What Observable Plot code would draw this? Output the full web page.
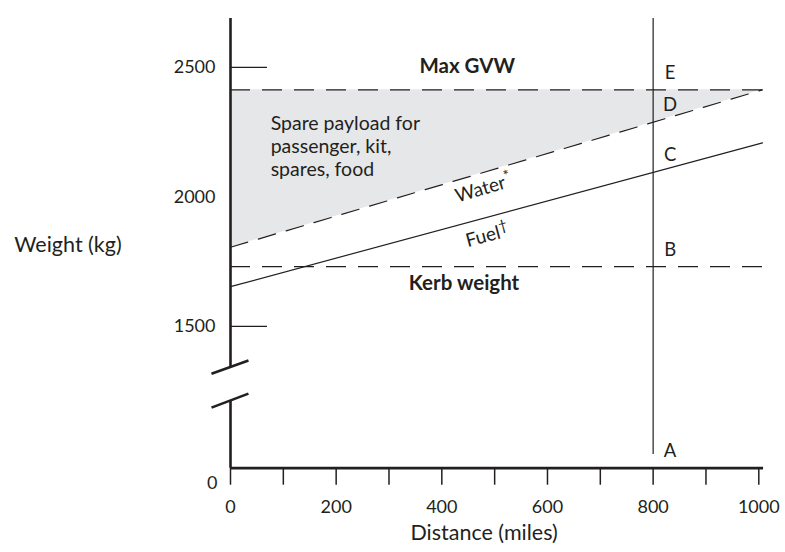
<!DOCTYPE html>
<html><head><meta charset="utf-8">
<script src="https://cdn.jsdelivr.net/npm/d3@7"></script>
<script src="https://cdn.jsdelivr.net/npm/@observablehq/plot@0.6"></script>
<style>body{margin:0;background:#fff} svg{display:block}</style>
</head><body><div id="chart"></div>
<script>
// ---- data ----
const distances = [0, 1007];          // miles (line end points)
const fuelLine = [1653, 2208];        // kerb + fuel (kg)
const waterLine = [1805, 2413];       // kerb + fuel + water (kg)
const kerbWeight = 1730;
const maxGVW = 2413;
const checkDistance = 800;
const pointLabels = ["A", "B", "C", "D", "E"];
const pointWeights = [0, 1730, 2094, 2288, 2413];
const xTicks = [0, 100, 200, 300, 400, 500, 600, 700, 800, 900, 1000];
const yTickLabels = [1500, 2000, 2500];
const yLongTicks = [1500, 2500];
const payloadText = "Spare payload for\npassenger, kit,\nspares, food";

// broken axis: the "0" of the weight axis sits just below the break
const axisBase = 952;
const disp = v => (v < 1000 ? axisBase + v : v);
const yTop = 2688;
const breakUpper = 1344, breakLower = 1213;
const breakMarks = [
  {x1: -36, y1: 1317, x2: 34, y2: 1368},
  {x1: -36, y1: 1186, x2: 34, y2: 1240}
];

const rows = distances.map((d, i) => ({d, fuel: fuelLine[i], water: waterLine[i]}));
const ink = "#231f20";

const chart = Plot.plot({
  width: 785,
  height: 552,
  marginLeft: 230,
  marginRight: 26.7,
  marginTop: 15,
  marginBottom: 84.3,
  x: {domain: [0, 1000]},
  y: {domain: [axisBase, 2700]},
  style: {fontFamily: "Lato, 'Open Sans', sans-serif", fontSize: "18px", color: ink, background: "#fff"},
  marks: [
    Plot.areaY(rows, {x: "d", y1: "water", y2: maxGVW, fill: "#e6e7e8"}),
    Plot.line(rows, {x: "d", y: "fuel", stroke: ink, strokeWidth: 1.2}),
    Plot.line(rows, {x: "d", y: "water", stroke: ink, strokeWidth: 1.2, strokeDasharray: "18,11"}),
    Plot.ruleY([maxGVW], {x1: 0, x2: 1010, stroke: ink, strokeWidth: 1.3, strokeDasharray: "20,12"}),
    Plot.ruleY([kerbWeight], {x1: 0, x2: 1007, stroke: ink, strokeWidth: 1.3, strokeDasharray: "20,12"}),
    Plot.ruleX([checkDistance], {y1: 1005, y2: yTop, stroke: ink, strokeWidth: 1.2}),
    // axes
    Plot.ruleX([0], {y1: breakUpper, y2: yTop, stroke: ink, strokeWidth: 2.6}),
    Plot.ruleX([0], {y1: axisBase, y2: breakLower, stroke: ink, strokeWidth: 2.6}),
    Plot.link(breakMarks, {x1: "x1", y1: "y1", x2: "x2", y2: "y2", stroke: ink, strokeWidth: 2.6}),
    Plot.ruleY([axisBase], {x1: 0, x2: 1009, stroke: ink, strokeWidth: 2.8}),
    Plot.axisX(xTicks, {tickSize: 17, tickPadding: 15, strokeWidth: 1.5, fontSize: 18,
      tickFormat: d => (d % 200 === 0 ? String(d) : ""), label: null}),
    Plot.axisY(yTickLabels, {tickSize: 0, tickPadding: 15, fontSize: 18, label: null, tickFormat: d => String(d)}),
    Plot.ruleY(yLongTicks, {x1: 0, x2: 70, stroke: ink, strokeWidth: 1.2}),
    Plot.text(["0"], {x: 0, y: axisBase, dx: -13, dy: 15, textAnchor: "end", fontSize: 18}),
    // point letters on the 800-mile line
    Plot.text(pointLabels, {x: () => checkDistance, y: (d, i) => disp(pointWeights[i]), dx: 17, dy: -17, fontSize: 18.5}),
    // annotations
    Plot.text(["Max GVW"], {x: 448, y: maxGVW, dy: -23, fontWeight: "bold", fontSize: 20.5}),
    Plot.text(["Kerb weight"], {x: 442, y: kerbWeight, dy: 17, fontWeight: "bold", fontSize: 20.5}),
    Plot.text([payloadText], {x: 76, y: 2198, textAnchor: "start", lineAnchor: "middle", lineHeight: 1.2, fontSize: 19.5}),
    Plot.text(["Water*"], {x: 479, y: 2032, rotate: -16.5, fontSize: 19}),
    Plot.text(["Fuel†"], {x: 486, y: 1850, rotate: -15, fontSize: 19}),
    Plot.text(["Weight (kg)"], {frameAnchor: "left", y: 1812, dx: -162.5, textAnchor: "middle", fontSize: 21.5}),
    Plot.text(["Distance (miles)"], {x: 480, frameAnchor: "bottom", dy: 72, fontSize: 21.5})
  ]
});

// small superscripts on Water* and Fuel†
d3.select(chart).selectAll("text").each(function () {
  const t = this.textContent;
  if (t === "Water*" || t === "Fuel†") {
    const base = t.slice(0, -1), sup = t.slice(-1);
    const sel = d3.select(this);
    sel.text(base);
    sel.append("tspan").attr("font-size", 15).attr("dy", "-0.45em").text(sup);
  }
});

document.getElementById("chart").appendChild(chart);
</script>
</body></html>
